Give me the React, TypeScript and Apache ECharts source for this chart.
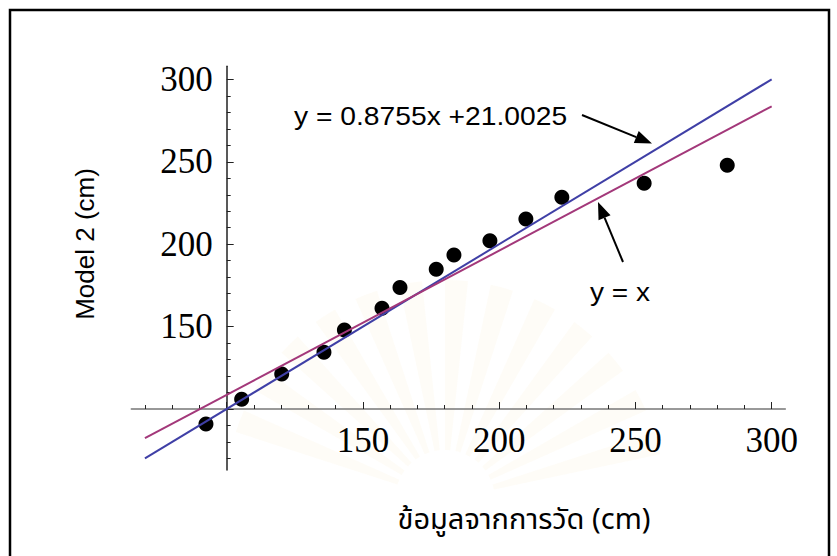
import React, { useEffect, useRef } from "react";
import * as echarts from "echarts";

// Measured values (x) and Model 2 predictions (y), in cm
const measured = [92.4, 105.5, 120.2, 135.7, 143.2, 157.0, 163.6, 176.9, 183.4, 196.6, 209.8, 223.0, 253.2, 283.7];
const model2 = [90.9, 105.9, 121.2, 134.4, 147.9, 161.1, 173.8, 184.8, 193.4, 202.1, 215.3, 228.5, 237.0, 247.9];

// Reference lines: y = x and y = 0.8755x + 21.0025 (end points)
const identityLine = [[70, 70], [300, 300]];
const fitLine = [[70, 82.29], [300, 283.65]];

const majorTicks = [100, 150, 200, 250, 300];
const tickLabels = [150, 200, 250, 300];
const minorTicks = [70, 80, 90, 110, 120, 130, 140, 160, 170, 180, 190, 210, 220, 230, 240, 260, 270, 280, 290];

const X_MIN = 65, X_MAX = 305, Y_MIN = 63, Y_MAX = 308;
const ORIGIN = 100;
const W = 837, H = 556;
const GRID = { left: 131.3, right: 51.7, top: 66.2, bottom: 86 };

const BLUE = "#3f3fa6";
const RED = "#a3387a";

export default function App() {
  const ref = useRef<HTMLDivElement>(null);
  useEffect(() => {
    if (!ref.current) return;
    const chart = echarts.init(ref.current, undefined, { renderer: "svg" });
    const gw = W - GRID.left - GRID.right;
    const gh = H - GRID.top - GRID.bottom;
    const xOff = -((ORIGIN - Y_MIN) / (Y_MAX - Y_MIN)) * gh;
    const yOff = -((ORIGIN - X_MIN) / (X_MAX - X_MIN)) * gw;

    const serif = "'Liberation Serif', 'Times New Roman', serif";
    const sans = "'Liberation Sans', Arial, sans-serif";

    const mkX = (major: boolean) => ({
      type: "value",
      min: X_MIN,
      max: X_MAX,
      position: "bottom",
      offset: xOff,
      axisLine: { show: major, onZero: false, lineStyle: { color: "#777", width: 1.5 } },
      axisTick: {
        show: true,
        inside: true,
        length: major ? 7 : 4,
        customValues: major ? majorTicks : minorTicks,
        lineStyle: { color: "#222", width: 1 },
      },
      axisLabel: major
        ? { show: true, customValues: tickLabels, fontFamily: serif, fontSize: 35, color: "#000", margin: 14 }
        : { show: false },
      splitLine: { show: false },
    });
    const mkY = (major: boolean) => ({
      type: "value",
      min: Y_MIN,
      max: Y_MAX,
      position: "left",
      offset: yOff,
      axisLine: { show: major, onZero: false, lineStyle: { color: "#222", width: 1.5 } },
      axisTick: {
        show: true,
        inside: true,
        length: major ? 7 : 4,
        customValues: major ? majorTicks : minorTicks,
        lineStyle: { color: "#222", width: 1 },
      },
      axisLabel: major
        ? { show: true, customValues: tickLabels, fontFamily: serif, fontSize: 35, color: "#000", margin: 14 }
        : { show: false },
      splitLine: { show: false },
    });

    // very faint watermark rays
    const rays: any[] = [];
    for (let a = 15; a <= 165; a += 12) {
      rays.push({
        type: "sector",
        z: -10,
        silent: true,
        shape: {
          cx: 445,
          cy: 500,
          r0: 50,
          r: 220,
          startAngle: (-(a + 3) * Math.PI) / 180,
          endAngle: (-(a - 3) * Math.PI) / 180,
        },
        style: { fill: "rgba(245,225,165,0.09)" },
      });
    }

    const arrow = (tail: number[], tip: number[]) => {
      const dx = tip[0] - tail[0], dy = tip[1] - tail[1];
      const len = Math.hypot(dx, dy);
      const ux = dx / len, uy = dy / len;
      const nx = -uy, ny = ux;
      const hl = 17, hw = 6.5;
      const bx = tip[0] - ux * hl, by = tip[1] - uy * hl;
      return [
        { type: "line", shape: { x1: tail[0], y1: tail[1], x2: bx, y2: by }, style: { stroke: "#000", lineWidth: 2 } },
        {
          type: "polygon",
          shape: { points: [tip, [bx + nx * hw, by + ny * hw], [bx - nx * hw, by - ny * hw]] },
          style: { fill: "#000" },
        },
      ];
    };

    chart.setOption({
      animation: false,
      backgroundColor: "#fff",
      grid: { ...GRID, containLabel: false, outerBoundsMode: "none" },
      xAxis: [mkX(true), mkX(false)],
      yAxis: [mkY(true), mkY(false)],
      series: [
        {
          type: "scatter",
          xAxisIndex: 0,
          yAxisIndex: 0,
          data: measured.map((x, i) => [x, model2[i]]),
          symbol: "circle",
          symbolSize: 15,
          itemStyle: { color: "#000", opacity: 1 },
          z: 2,
        },
        {
          type: "line",
          data: identityLine,
          showSymbol: false,
          lineStyle: { color: BLUE, width: 2 },
          z: 3,
        },
        {
          type: "line",
          data: fitLine,
          showSymbol: false,
          lineStyle: { color: RED, width: 2 },
          z: 3,
        },
      ],
      graphic: [
        ...rays,
        {
          type: "rect",
          shape: { x: 10, y: 10, width: 819, height: 600 },
          style: { fill: "none", stroke: "#000", lineWidth: 2.5 },
          z: 50,
        },
        {
          type: "text",
          x: 294,
          y: 117,
          scaleX: 1.13,
          style: { text: "y = 0.8755x +21.0025", font: `25px ${sans}`, fill: "#000", align: "left", verticalAlign: "middle" },
          z: 50,
        },
        {
          type: "text",
          x: 590,
          y: 293,
          scaleX: 1.12,
          style: { text: "y = x", font: `25px ${sans}`, fill: "#000", align: "left", verticalAlign: "middle" },
          z: 50,
        },
        ...arrow([582, 115], [652, 143.5]),
        ...arrow([623, 262], [598, 202]),
        {
          type: "text",
          x: 85,
          y: 244,
          rotation: Math.PI / 2,
          style: { text: "Model 2 (cm)", font: `26px ${sans}`, fill: "#000", align: "center", verticalAlign: "middle" },
          z: 50,
        },
        {
          type: "text",
          x: 524,
          y: 520,
          style: {
            text: "ข้อมูลจากการวัด (cm)",
            font: `29px 'Noto Sans Thai', 'Noto Sans', Loma, Garuda, 'Liberation Sans', sans-serif`,
            fill: "#000",
            align: "center",
            verticalAlign: "middle",
          },
          z: 50,
        },
      ],
    });
    return () => chart.dispose();
  }, []);
  return <div ref={ref} style={{ position: "fixed", left: 0, top: 0, width: W, height: H }} />;
}
